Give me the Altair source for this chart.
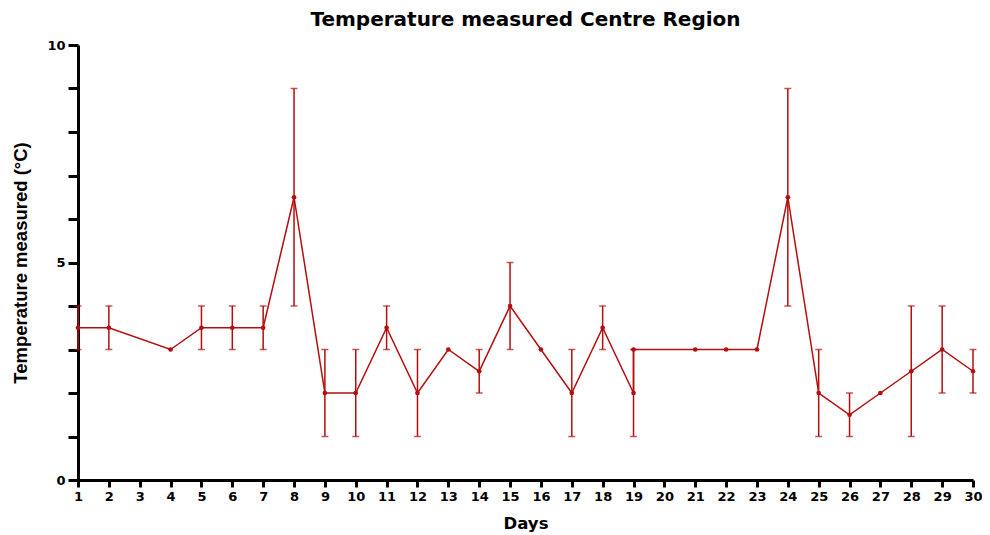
import altair as alt
import pandas as pd

# Line series (day 19 appears twice: the line drops to 2 and continues from 3)
line_days = [1, 2, 4, 5, 6, 7, 8, 9, 10, 11, 12, 13, 14, 15, 16, 17, 18, 19, 19, 21, 22, 23, 24, 25, 26, 27, 28, 29, 30]
line_vals = [3.5, 3.5, 3.0, 3.5, 3.5, 3.5, 6.5, 2.0, 2.0, 3.5, 2.0, 3.0, 2.5, 4.0, 3.0, 2.0, 3.5, 2.0, 3.0, 3.0, 3.0, 3.0, 6.5, 2.0, 1.5, 2.0, 2.5, 3.0, 2.5]

# Error bars
err_days = [1, 2, 5, 6, 7, 8, 9, 10, 11, 12, 14, 15, 17, 18, 19, 24, 25, 26, 28, 29, 30]
err_low = [3, 3, 3, 3, 3, 4, 1, 1, 3, 1, 2, 3, 1, 3, 1, 4, 1, 1, 1, 2, 2]
err_high = [4, 4, 4, 4, 4, 9, 3, 3, 4, 3, 3, 5, 3, 4, 3, 9, 3, 2, 4, 4, 3]

day_ticks = list(range(1, 31))
y_ticks = list(range(0, 11))

COLOR = "#b30f0f"
FONT = "Liberation Sans"
WIDE = "DejaVu Sans"

line_df = pd.DataFrame({"day": line_days, "temp": line_vals, "seq": list(range(len(line_days)))})
err_df = pd.DataFrame({"day": err_days, "low": err_low, "high": err_high})

x_scale = alt.Scale(domain=[1, 30], nice=False, zero=False)
y_scale = alt.Scale(domain=[0, 10], nice=False)

x_axis = alt.Axis(
    title="Days", values=day_ticks, format="d", labelFontSize=13, labelFontWeight="bold",
    labelFont=WIDE, titleFont=WIDE, titleFontSize=16.5, titleFontWeight="bold",
    domainColor="black", domainWidth=3, tickColor="black", tickWidth=3, tickSize=7,
    labelColor="black", titleColor="black", labelPadding=3, titlePadding=12, grid=False,
    labelOverlap=False, labelFlush=False,
)
y_axis = alt.Axis(
    title="Temperature measured (°C)", values=y_ticks,
    labelExpr="datum.value % 5 == 0 ? datum.label : ''",
    labelFontSize=13, labelFontWeight="bold", labelFont=WIDE, titleFont=FONT,
    titleFontSize=18.5, titleFontWeight="bold", domainColor="black", domainWidth=3,
    tickColor="black", tickWidth=3, tickSize=10, labelColor="black", titleColor="black",
    labelPadding=3, titlePadding=16, grid=False, labelFlush=False,
)

X = alt.X("day:Q", scale=x_scale, axis=x_axis)

def Y(field):
    return alt.Y(field, scale=y_scale, axis=y_axis)

line = alt.Chart(line_df).mark_line(color=COLOR, strokeWidth=1.5).encode(
    x=X, y=Y("temp:Q"), order="seq:Q",
)
points = alt.Chart(line_df).mark_circle(color=COLOR, size=22, opacity=1).encode(
    x=X, y=Y("temp:Q"),
)
rules = alt.Chart(err_df).mark_rule(color=COLOR, strokeWidth=1.5).encode(
    x=X, y=Y("low:Q"), y2="high:Q",
)
cap_low = alt.Chart(err_df).mark_tick(color=COLOR, orient="horizontal", size=7, thickness=1.5).encode(
    x=X, y=Y("low:Q"),
)
cap_high = alt.Chart(err_df).mark_tick(color=COLOR, orient="horizontal", size=7, thickness=1.5).encode(
    x=X, y=Y("high:Q"),
)

chart = alt.layer(line, rules, cap_low, cap_high, points).properties(
    width=895, height=435,
    autosize=alt.AutoSizeParams(type="none"),
    padding={"left": 70, "top": 37, "right": 9, "bottom": 55},
    title=alt.TitleParams("Temperature measured Centre Region", font=WIDE, fontSize=20,
                          fontWeight="bold", color="black", anchor="middle", offset=9),
).configure(background="white", view=alt.ViewConfig(stroke=None))

chart.save("out.html", embed_options={"renderer": "svg", "actions": False})
